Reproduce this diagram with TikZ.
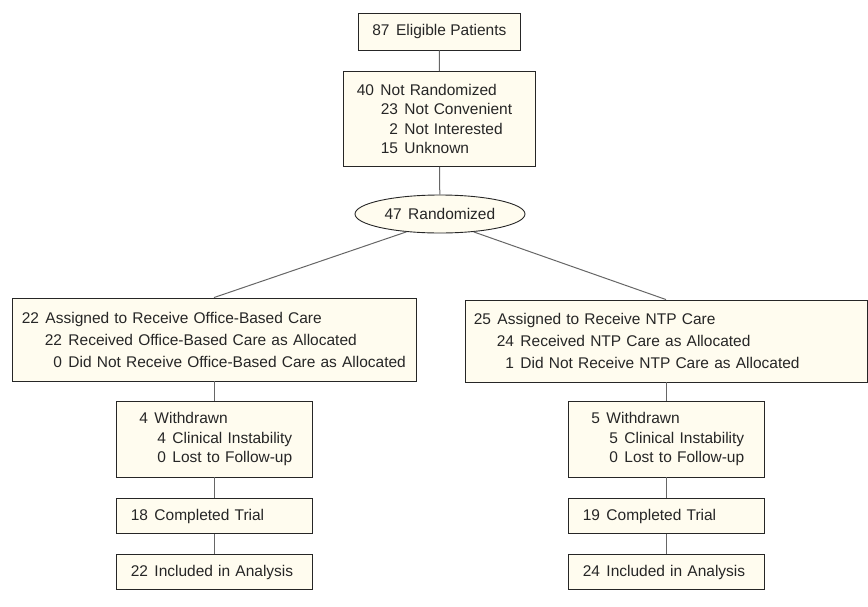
\documentclass[tikz,border=0pt]{standalone}
\usepackage{fontspec}
\setmainfont{Liberation Sans}
\usetikzlibrary{shapes.geometric}

\definecolor{boxfill}{HTML}{FFFCEF}
\newcommand{\cnt}[1]{\makebox[17pt][r]{#1}\hspace{6.5pt}}

\begin{document}
\begin{tikzpicture}[x=1pt,y=-1pt]
        \tikzset{box/.style = {shape=rectangle,draw=black!85,fill=boxfill,line width=0.9pt,
            inner xsep=14pt,inner ysep=0pt,minimum height=35pt,
            font=\fontsize{15.5}{19.6}\selectfont,text=black!85}}
        \tikzset{edge/.style = {draw=black!60,line width=1pt}}

        \useasboundingbox (0,0) rectangle (868,606);

        % screening
        \node[box,align=center,minimum height=37pt] (elig) at (439.5,31.5) {\cnt{87}Eligible Patients};
        \node[box,text width=164pt,align=left,minimum height=95pt] (notrand) at (439,119) {\cnt{40}Not Randomized\\
            \hspace*{24pt}\cnt{23}Not Convenient\\
            \hspace*{24pt}\cnt{2}Not Interested\\
            \hspace*{24pt}\cnt{15}Unknown};
        \node[box,shape=ellipse,minimum width=170pt,minimum height=38pt,inner sep=0pt] (rand) at (440,214) {\cnt{47}Randomized};

        % arms
        \node[box,text width=384pt,inner xsep=10pt,align=left,minimum height=83pt,
            font=\fontsize{15.5}{22}\selectfont] (office) at (214,339.5) {\cnt{22}Assigned to Receive Office-Based Care\\
            \hspace*{23pt}\cnt{22}Received Office-Based Care as Allocated\\
            \hspace*{23pt}\cnt{0}Did Not Receive Office-Based Care as Allocated};
        \node[box,text width=384pt,inner xsep=9pt,align=left,minimum height=82pt,
            font=\fontsize{15.5}{22}\selectfont] (ntp) at (666,341) {\cnt{25}Assigned to Receive NTP Care\\
            \hspace*{23pt}\cnt{24}Received NTP Care as Allocated\\
            \hspace*{23pt}\cnt{1}Did Not Receive NTP Care as Allocated};

        % follow-up
        \foreach \arm/\x/\w/\c/\a in {office/214/4/18/22, ntp/666/5/19/24} {
            \node[box,text width=166pt,inner xsep=15pt,align=left,minimum height=76pt] (wd-\arm) at (\x,439) {\cnt{\w}Withdrawn\\
                \hspace*{18pt}\cnt{\w}Clinical Instability\\
                \hspace*{18pt}\cnt{0}Lost to Follow-up};
            \node[box,text width=166pt,inner xsep=15pt,align=left] (ct-\arm) at (\x,516) {\cnt{\c}Completed Trial};
            \node[box,text width=166pt,inner xsep=15pt,align=left] (ia-\arm) at (\x,572) {\cnt{\a}Included in Analysis};
            \draw[edge] (\arm) -- (wd-\arm);
            \draw[edge] (wd-\arm) -- (ct-\arm);
            \draw[edge] (ct-\arm) -- (ia-\arm);
        }

        %edges
        \draw[edge] (elig) -- (notrand);
        \draw[edge] (notrand) -- (rand);
        \draw[edge] (rand.208) -- (office.north);
        \draw[edge] (rand.332) -- (ntp.north);

    \end{tikzpicture}
\end{document}
